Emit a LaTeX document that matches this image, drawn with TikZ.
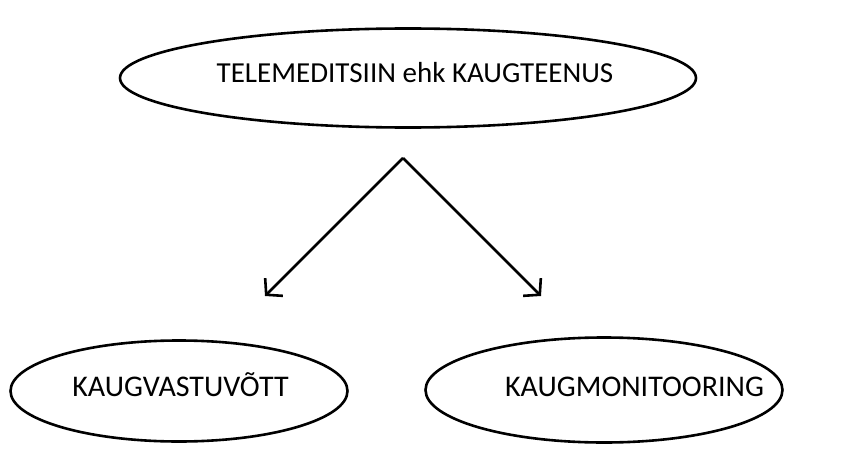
\documentclass[tikz,border=0pt]{standalone}
\usepackage{fontspec}
\setmainfont{Carlito}
\usetikzlibrary{shapes.geometric,arrows.meta}
\begin{document}
\begin{tikzpicture}[x=1pt,y=-1pt,
  oval/.style={draw, ellipse, line width=2.6pt, inner sep=0pt},
  caption/.style={inner sep=0pt, text height=0.644em, text depth=0pt},
  link/.style={line width=2.6pt, -{Straight Barb[length=11pt,width=25pt,line width=2.6pt]}}]
\useasboundingbox (0,0) rectangle (843,452);
\node[oval, minimum width=576pt, minimum height=99pt] (top) at (408,78) {};
\node[oval, minimum width=337pt, minimum height=101pt] (left) at (179,391) {};
\node[oval, minimum width=357pt, minimum height=105pt] (right) at (604,390) {};
\node[caption, font=\fontsize{29}{34}\selectfont] (toptext) at (415,79) {TELEMEDITSIIN ehk KAUGTEENUS};
\node[caption, font=\fontsize{30}{36}\selectfont] (lefttext) at (180.5,393) {KAUGVASTUVÕTT};
\node[caption, font=\fontsize{30}{36}\selectfont] (righttext) at (634.5,393) {KAUGMONITOORING};
\coordinate (apex) at (403,158);
\coordinate (ltip) at (265,296);
\coordinate (rtip) at (541,296);
\draw[link] (apex) -- (ltip);
\draw[link] (apex) -- (rtip);
\end{tikzpicture}
\end{document}
